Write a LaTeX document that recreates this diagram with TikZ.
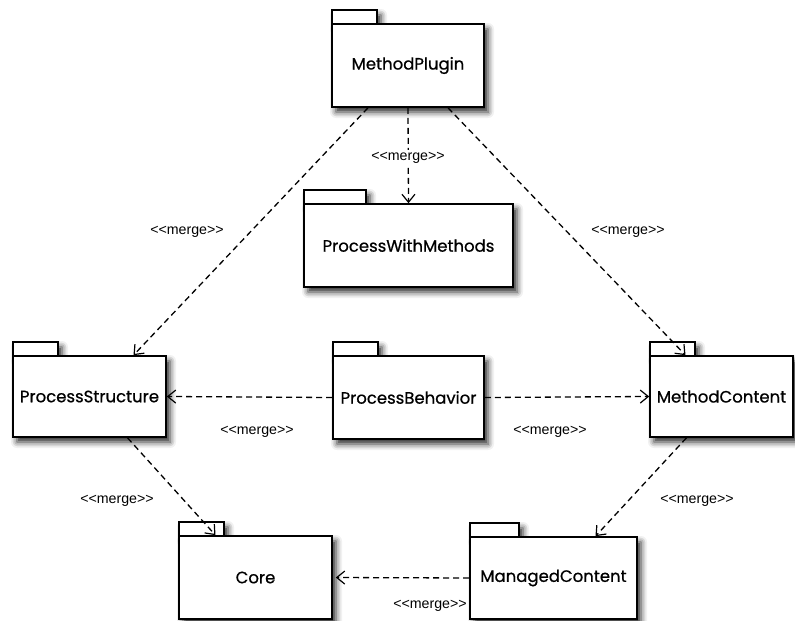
\documentclass[tikz,border=0pt]{standalone}
\usepackage{fontspec}
\newfontfamily\pkgfont{Poppins}[FakeBold=0.7]
\newfontfamily\labelfont{Liberation Sans}
\usetikzlibrary{arrows.meta,shadows.blur}

\tikzset{
  pkgshadow/.style={blur shadow={shadow xshift=4pt,shadow yshift=-5pt,shadow blur radius=6pt,shadow opacity=85}},
  pkgtab/.style={draw=black,line width=1.6pt,fill=white,pkgshadow},
  pkgbody/.style={draw=black,line width=1.6pt,fill=white,pkgshadow,
    inner sep=0pt,font=\pkgfont\fontsize{16.5}{19}\selectfont},
  merge/.style={draw=black,line width=1.3pt,dash pattern=on 6pt off 4pt,
    -{Straight Barb[length=8pt,width=13pt,line width=1.2pt]}},
  mlabel/.style={font=\labelfont\fontsize{14.2}{16}\selectfont,inner sep=0pt}
}

% \umlpackage{name}{x1}{y1}{x2}{y2}{tab width}{text}
\newcommand\umlpackage[7]{%
  \path[pkgtab] (#2,#3-14) rectangle (#2+#6,#3);
  \node[pkgbody,minimum width={(#4-#2)*1pt},minimum height={(#5-#3)*1pt}]
    (#1) at ({(#2+#4)/2},{(#3+#5)/2}) {#7};
}

\begin{document}
\begin{tikzpicture}[x=1pt,y=-1pt]
\useasboundingbox (0,0) rectangle (795,621);

\umlpackage{mp}{332}{24}{484}{107}{45}{MethodPlugin}
\umlpackage{pwm}{304}{204}{513}{287}{62}{ProcessWithMethods}
\umlpackage{ps}{13}{356}{166}{437}{45}{ProcessStructure}
\umlpackage{pb}{333}{356}{484}{439}{45}{ProcessBehavior}
\umlpackage{mc}{650}{356}{793}{437}{45}{MethodContent}
\umlpackage{core}{179}{536}{332}{619}{45}{Core}
\umlpackage{mgc}{470}{537}{637}{619}{49}{ManagedContent}

% merge dependencies
\draw[merge] (mp.south) -- (pwm.north);
\draw[merge] ([xshift=-40pt]mp.south) -- ([xshift=44pt]ps.north);
\draw[merge] ([xshift=40pt]mp.south) -- ([xshift=-36pt]mc.north);
\draw[merge] (pb.west) -- (ps.east);
\draw[merge] (pb.east) -- (mc.west);
\draw[merge] ([xshift=38pt]ps.south) -- ([xshift=-40pt]core.north);
\draw[merge] ([xshift=-35pt]mc.south) -- ([xshift=42pt]mgc.north);
\draw[merge,shorten >=3pt] (mgc.west) -- (core.east);

% stereotype labels
\node[mlabel,fill=white,inner sep=2pt] (l1) at (408,158) {<<merge>>};
\node[mlabel] (l2) at (187,232) {<<merge>>};
\node[mlabel] (l3) at (628,232) {<<merge>>};
\node[mlabel] (l4) at (257,432) {<<merge>>};
\node[mlabel] (l5) at (550,432) {<<merge>>};
\node[mlabel] (l6) at (117,501) {<<merge>>};
\node[mlabel] (l7) at (697,501) {<<merge>>};
\node[mlabel] (l8) at (430,606) {<<merge>>};
\end{tikzpicture}
\end{document}
